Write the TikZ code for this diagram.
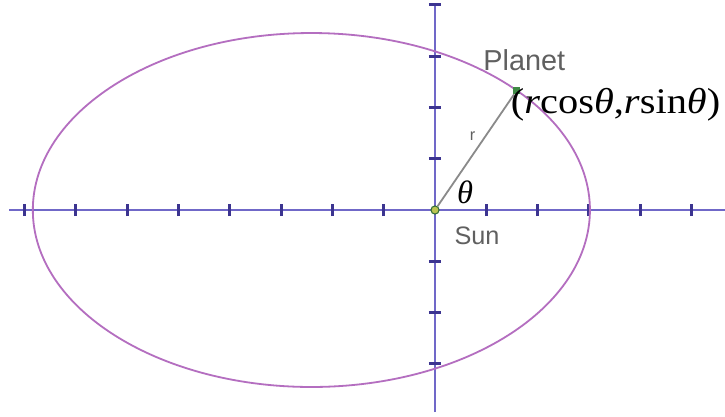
\documentclass[tikz,border=0pt]{standalone}
\usepackage{fontspec}
\setmainfont{Liberation Serif}
\setsansfont{Liberation Sans}
\usetikzlibrary{calc}
\definecolor{caxis}{HTML}{7068C8}
\definecolor{ctick}{HTML}{3C3490}
\definecolor{corbit}{HTML}{B46EC0}
\definecolor{cray}{HTML}{8A8A8A}
\definecolor{cplanet}{HTML}{3F8A45}
\definecolor{csun}{HTML}{BCC452}
\definecolor{clbl}{HTML}{606060}
\tikzset{
  axisl/.style={draw=caxis, line width=1.4pt},
  tickm/.style={draw=ctick, line width=1.6pt},
  orbit/.style={draw=corbit, line width=1pt},
  ray/.style={draw=cray, line width=1pt},
  sunn/.style={circle, draw=cplanet!80!black, fill=csun, inner sep=0pt, minimum size=4.5pt, line width=0.6pt},
  planetn/.style={rectangle, fill=cplanet, inner sep=0pt, minimum size=4pt},
  lbl/.style={font=\sffamily\fontsize{16}{18}\selectfont, text=clbl, inner sep=0pt},
  coordl/.style={font=\fontsize{20}{23}\selectfont, inner sep=0pt},
}

\begin{document}
\begin{tikzpicture}[x=1cm,y=1cm]
\useasboundingbox[fill=white] (-8.48,-4.02) rectangle (5.653,4.094);
% axes
\coordinate (xl) at (-8.3,0);
\coordinate (xr) at (5.653,0);
\coordinate (yt) at (0,4.0);
\coordinate (yb) at (0,-3.94);
\draw[axisl] (xl) -- (xr);
\draw[axisl] (yb) -- (yt);
\foreach \i in {-8,...,-1,1,2,...,5}
  \draw[tickm] (\i,-0.12) -- (\i,0.12);
\foreach \j in {-3,...,-1,1,2,...,4}
  \draw[tickm] (-0.12,\j) -- (0.12,\j);
% orbit
\coordinate (ctr) at (-2.41,0);
\draw[orbit] (ctr) ellipse [x radius=5.43, y radius=3.45];
\node[sunn] (sun) at (0,0) {};
\node[planetn] (planet) at ($(ctr)+(42.5:5.43 and 3.45)$) {};
\draw[ray] (sun) -- node[pos=0.63, left=2pt, font=\sffamily\fontsize{9}{10}\selectfont, text=clbl] {r} (planet);
\node[lbl] (pname) at (1.74,2.92) {Planet};
\node[coordl] (pcoord) at (3.52,2.05) {\scalebox{1.12}[1]{(\textit{r}cos\textit{θ},\textit{r}sin\textit{θ})}};
\node[coordl, font=\fontsize{18}{20}\selectfont] (ang) at (0.585,0.35) {\textit{θ}};
\node[lbl, font=\sffamily\fontsize{14}{16}\selectfont] (sname) at (0.82,-0.51) {Sun};
\end{tikzpicture}
\end{document}
